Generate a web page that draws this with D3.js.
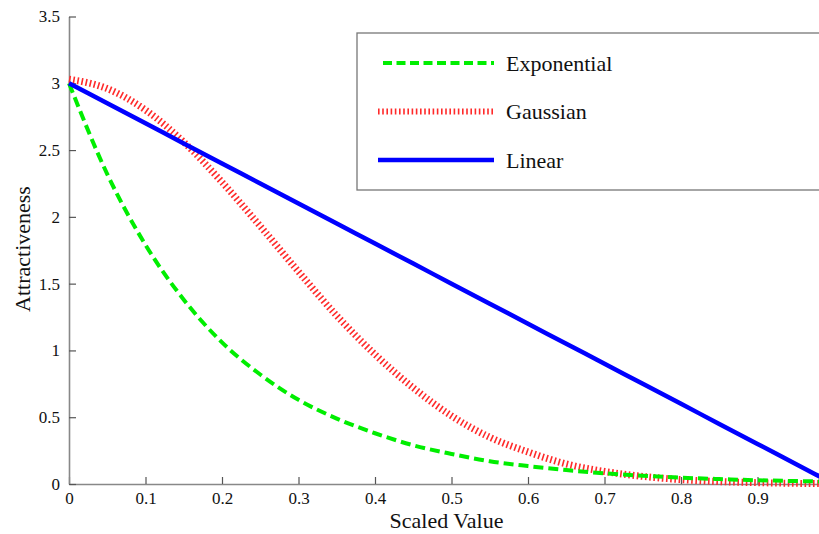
<!DOCTYPE html>
<html>
<head>
<meta charset="utf-8">
<script src="https://cdn.jsdelivr.net/npm/d3@7"></script>
<style>
  body { margin: 0; background: #fff; }
  svg { display: block; }
</style>
</head>
<body>
<div class="chart"></div>
<script>
// values
const xValues = [0, 0.05, 0.1, 0.15, 0.2, 0.25, 0.3, 0.35, 0.4, 0.45, 0.5,
                 0.55, 0.6, 0.65, 0.7, 0.75, 0.8, 0.85, 0.9, 0.95, 1.0];
const exponential = [3.00, 2.32, 1.79, 1.38, 1.06, 0.82, 0.63, 0.49, 0.38, 0.29, 0.225,
                     0.17, 0.134, 0.104, 0.08, 0.062, 0.047, 0.037, 0.028, 0.022, 0.017];
const gaussian = [3.03, 2.96, 2.80, 2.56, 2.26, 1.93, 1.59, 1.26, 0.97, 0.72, 0.51,
                  0.35, 0.24, 0.15, 0.094, 0.057, 0.033, 0.018, 0.01, 0.005, 0.003];
const linear = [3.00, 2.85, 2.70, 2.55, 2.40, 2.25, 2.10, 1.95, 1.80, 1.65, 1.50,
                1.35, 1.20, 1.05, 0.90, 0.75, 0.60, 0.45, 0.30, 0.15, 0.0];
const seriesNames = ["Exponential", "Gaussian", "Linear"];
const xTicks = [0, 0.1, 0.2, 0.3, 0.4, 0.5, 0.6, 0.7, 0.8, 0.9];
const yTicks = [0, 0.5, 1, 1.5, 2, 2.5, 3, 3.5];

const svgWidth = 819, svgHeight = 534;
const margin = { top: 16.5, left: 69, bottom: 50 };
const plotBottom = 484;
const serif = "'Liberation Serif', 'Times New Roman', Times, serif";

const svg = d3.select(".chart").append("svg")
    .attr("width", svgWidth)
    .attr("height", svgHeight)
    .style("font-family", serif);

// x runs to 1.0 just past the right edge of the window
const x = d3.scaleLinear().domain([0, 1]).range([margin.left, 834]);
const y = d3.scaleLinear().domain([0, 3.5]).range([plotBottom, margin.top]);

// styles for each series
const styles = {
    Exponential: { color: "#00ee00", width: 4, dash: "10,5" },
    Gaussian: { color: "#ff2a2a", width: 7, dash: "1.6,2.6" },
    Linear: { color: "#0000ff", width: 4.5, dash: null }
};

// AXES
const xAxis = d3.axisBottom(x).tickValues(xTicks).tickSizeInner(-7).tickSizeOuter(0)
    .tickPadding(8).tickFormat(d => d3.format("")(d));
const yAxis = d3.axisLeft(y).tickValues(yTicks).tickSizeInner(-7).tickSizeOuter(0)
    .tickPadding(8).tickFormat(d => d3.format("")(d));

const gx = svg.append("g")
    .attr("transform", `translate(0, ${plotBottom})`)
    .call(xAxis);
const gy = svg.append("g")
    .attr("transform", `translate(${margin.left}, 0)`)
    .call(yAxis);

[gx, gy].forEach(g => {
    g.attr("font-family", null);
    g.select(".domain").attr("stroke", "#888").attr("stroke-width", 1.6);
    g.selectAll(".tick line").attr("stroke", "#555").attr("stroke-width", 1.2);
    g.selectAll(".tick text")
        .attr("fill", "#111")
        .style("font-size", "17px")
        .style("font-family", serif);
});
gy.selectAll(".tick text").attr("dx", "-1");

// AXIS TITLES
svg.append("text")
    .attr("x", x(0.5) - 5)
    .attr("y", 528)
    .attr("text-anchor", "middle")
    .attr("fill", "#111")
    .style("font-size", "22px")
    .text("Scaled Value");

svg.append("text")
    .attr("transform", `translate(30, 249) rotate(-90)`)
    .attr("text-anchor", "middle")
    .attr("fill", "#111")
    .style("font-size", "22px")
    .text("Attractiveness");

// LINES
const data = {
    Exponential: xValues.map((v, i) => ({ x: v, y: exponential[i] })),
    Gaussian: xValues.map((v, i) => ({ x: v, y: gaussian[i] })),
    Linear: xValues.map((v, i) => ({ x: v, y: linear[i] }))
};

const line = d3.line()
    .x(d => x(d.x))
    .y(d => y(d.y))
    .curve(d3.curveMonotoneX);

const lineGroup = svg.append("g");
["Gaussian", "Exponential", "Linear"].forEach(name => {
    const s = styles[name];
    lineGroup.append("path")
        .datum(data[name])
        .attr("fill", "none")
        .attr("stroke", s.color)
        .attr("stroke-width", s.width)
        .attr("stroke-dasharray", s.dash)
        .attr("stroke-linejoin", "round")
        .attr("d", line);
});

// LEGEND
const legend = svg.append("g");
legend.append("rect")
    .attr("x", 357)
    .attr("y", 33)
    .attr("width", 480)
    .attr("height", 157)
    .attr("fill", "#fff")
    .attr("stroke", "#777")
    .attr("stroke-width", 1.3);

seriesNames.forEach((name, i) => {
    const s = styles[name];
    const ly = 63 + i * 48.5;
    legend.append("line")
        .attr("x1", name === "Exponential" ? 383 : 378)
        .attr("x2", 494)
        .attr("y1", ly)
        .attr("y2", ly)
        .attr("stroke", s.color)
        .attr("stroke-width", name === "Gaussian" ? 6 : s.width)
        .attr("stroke-dasharray", name === "Exponential" ? "9,4.5" : s.dash);
    legend.append("text")
        .attr("x", 506)
        .attr("y", ly)
        .attr("dy", "0.35em")
        .attr("fill", "#111")
        .style("font-size", "22px")
        .text(name);
});
</script>
</body>
</html>
